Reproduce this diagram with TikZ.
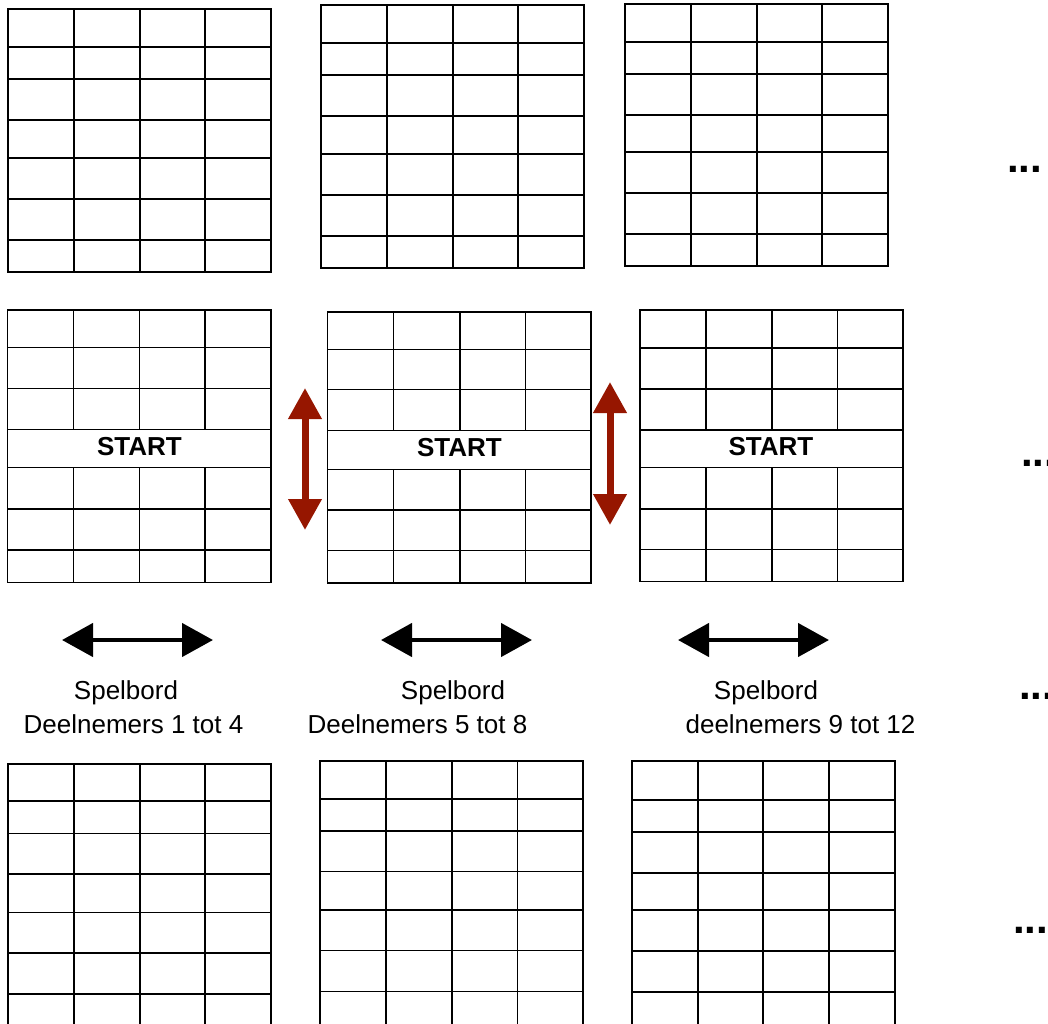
\documentclass[tikz,border=0pt]{standalone}
\usepackage{fontspec}
\setmainfont{Liberation Sans}
\usetikzlibrary{arrows.meta}
\definecolor{arrowred}{RGB}{150,22,0}
\newcommand{\plainboard}[6]{% x0, x1, y0, y1, inner xs, inner ys
  \draw (#1,#3) rectangle (#2,#4);
  \foreach \xx in {#5} \draw (\xx,#3) -- (\xx,#4);
  \foreach \yy in {#6} \draw (#1,\yy) -- (#2,\yy);
}
\newcommand{\startboard}[8]{% x0, x1, y0, y1, inner xs, inner ys, start top, start bottom
  \draw (#1,#3) rectangle (#2,#4);
  \foreach \xx in {#5} {\draw (\xx,#3) -- (\xx,#7); \draw (\xx,#8) -- (\xx,#4);}
  \foreach \yy in {#6} \draw (#1,\yy) -- (#2,\yy);
}
\begin{document}
\begin{tikzpicture}[x=1pt,y=-1pt,
  thickgrid/.style={line width=1.6pt},
  thingrid/.style={line width=1.3pt},
  label/.style={inner sep=0pt, anchor=base, font=\fontsize{26}{30}\selectfont},
  startlabel/.style={inner sep=0pt, anchor=base, font=\bfseries\fontsize{26}{30}\selectfont},
  dots/.style={inner sep=0pt, anchor=base west, font=\bfseries\fontsize{42}{42}\selectfont},
  redarrow/.style={draw=arrowred, line width=7pt, {Triangle[width=32pt,length=31pt]}-{Triangle[width=32pt,length=31pt]}},
  blackarrow/.style={draw=black, line width=4.5pt, {Triangle[width=33pt,length=31pt]}-{Triangle[width=33pt,length=31pt]}}]
\useasboundingbox (0,0) rectangle (1048,1023);
\clip (0,0) rectangle (1048,1023);
\fill[white] (0,0) rectangle (1048,1023);

% top row boards
\begin{scope}[thickgrid]
\plainboard{7.7}{271}{9}{271.7}{73.7,139.7,205}{46.7,79,119.7,158,198.7,239.7}
\plainboard{320.7}{584}{5}{267.7}{386.7,452.7,518}{42.7,75,115.7,154,195,236}
\plainboard{625}{887.7}{4}{265.7}{690.7,756.7,822}{42,73.7,115,152,192.7,233.7}
\end{scope}

% middle row boards with START
\begin{scope}[thingrid]
\startboard{7.7}{271}{310}{582.7}{73.7,139.7,205}{347.7,388.7,429.7,467.7,509,550}{429.7}{467.7}
\startboard{327.7}{591}{312}{583}{393.7,460,525.3}{349.7,389.7,430.7,469.3,510,550.7}{430.7}{469.3}
\startboard{640}{903}{310}{581.7}{706,772,837.3}{348,389,430,467.7,509,549.7}{430}{467.7}
\end{scope}
\node[startlabel] (s1) at (139.5,455) {START};
\node[startlabel] (s2) at (459.5,456) {START};
\node[startlabel] (s3) at (771,455) {START};

% bottom row boards (cut off by the page edge)
\begin{scope}[thickgrid]
\plainboard{7.7}{271}{764}{1030}{73.7,139.7,205}{800.7,833.3,873.7,912.3,952.7,993.7}
\plainboard{320}{583}{761}{1030}{386,452,517.3}{798.7,831,871.5,910,950.5,991.5}
\plainboard{632}{894.7}{760.7}{1030}{697.7,763,828.7}{800,831.7,872.7,910,951,991.7}
\end{scope}

% red vertical arrows
\coordinate (r1t) at (305,388);
\coordinate (r1b) at (305,530);
\coordinate (r2t) at (610,382);
\coordinate (r2b) at (610,525);
\draw[redarrow] (r1t) -- (r1b);
\draw[redarrow] (r2t) -- (r2b);

% black horizontal arrows
\coordinate (b1l) at (62,640);
\coordinate (b1r) at (213,640);
\coordinate (b2l) at (381,640);
\coordinate (b2r) at (532,640);
\coordinate (b3l) at (678,640);
\coordinate (b3r) at (829,640);
\draw[blackarrow] (b1l) -- (b1r);
\draw[blackarrow] (b2l) -- (b2r);
\draw[blackarrow] (b3l) -- (b3r);

% labels
\node[label] (l1a) at (126,699) {Spelbord};
\node[label] (l1b) at (133.5,733) {Deelnemers 1 tot 4};
\node[label] (l2a) at (453,699) {Spelbord};
\node[label] (l2b) at (417.5,733) {Deelnemers 5 tot 8};
\node[label] (l3a) at (766,699) {Spelbord};
\node[label] (l3b) at (800.5,733) {deelnemers 9 tot 12};

% ellipsis marks at the right (cut off by the page edge, as in the original)
\node[dots] (d1) at (1007,172) {...};
\node[dots] (d2) at (1021,466) {...};
\node[dots] (d3) at (1019,699) {...};
\node[dots] (d4) at (1013,933) {...};
\end{tikzpicture}
\end{document}
